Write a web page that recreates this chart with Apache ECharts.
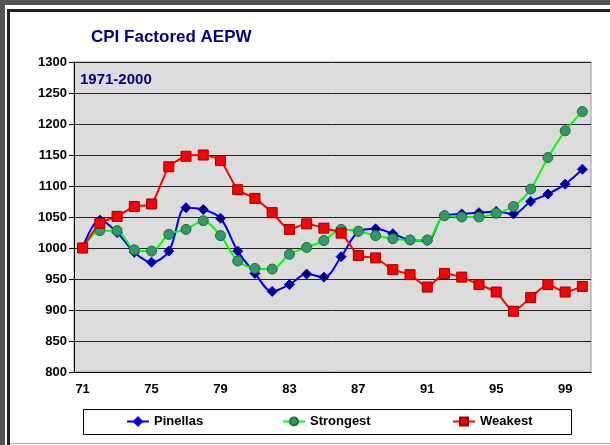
<!DOCTYPE html>
<html>
<head>
<meta charset="utf-8">
<title>CPI Factored AEPW</title>
<script src="https://cdn.jsdelivr.net/npm/echarts@6/dist/echarts.min.js"></script>
<style>
  html, body { margin: 0; padding: 0; background: #fff; }
  #chart { width: 610px; height: 445px; }
</style>
</head>
<body>
<div id="chart"></div>
<script>
// years 1971-2000, shown as two-digit labels
const years = ['71','72','73','74','75','76','77','78','79','80',
  '81','82','83','84','85','86','87','88','89','90',
  '91','92','93','94','95','96','97','98','99','00']

const pinellas = [1000, 1045, 1025, 993, 977, 995, 1065, 1062, 1048, 995,
  959, 930, 941, 958, 953, 986, 1026, 1031, 1023, 1013,
  1012, 1053, 1055, 1057, 1059, 1055, 1075, 1087, 1103, 1127]

const strongest = [1000, 1028, 1028, 997, 995, 1022, 1030, 1044, 1020, 979,
  967, 966, 990, 1001, 1012, 1030, 1027, 1020, 1015, 1013,
  1013, 1052, 1050, 1050, 1056, 1067, 1095, 1146, 1189, 1220]

const weakest = [1000, 1040, 1051, 1067, 1071, 1131, 1148, 1150, 1141, 1094,
  1080, 1057, 1030, 1039, 1032, 1024, 988, 984, 965, 957,
  937, 959, 953, 941, 929, 898, 920, 941, 929, 938]

const chart = echarts.init(document.getElementById('chart'))

const font = 'Arial, "Liberation Sans", sans-serif'
const legendText = { fontSize: 13, fontWeight: 'bold', color: '#000', fontFamily: font }

const option = {
  animation: false,
  backgroundColor: '#fff',
  textStyle: { fontFamily: font },
  title: [
    {
      text: 'CPI Factored AEPW',
      left: 91,
      top: 29,
      padding: 0,
      textStyle: { fontSize: 17, fontWeight: 'bold', color: '#000080', fontFamily: font }
    },
    {
      text: '1971-2000',
      left: 80,
      top: 72,
      padding: 0,
      textStyle: { fontSize: 15, fontWeight: 'bold', color: '#000080', fontFamily: font }
    }
  ],
  graphic: [
    { type: 'rect', shape: { x: 0, y: 0, width: 610, height: 5 }, style: { fill: '#555' } },
    { type: 'rect', shape: { x: 0, y: 0, width: 5, height: 445 }, style: { fill: '#555' } },
    { type: 'rect', shape: { x: 7, y: 9, width: 610, height: 3 }, style: { fill: '#222' } },
    { type: 'rect', shape: { x: 7, y: 9, width: 3, height: 440 }, style: { fill: '#222' } },
    { type: 'line', shape: { x1: 10, y1: 443.5, x2: 610, y2: 443.5 }, style: { stroke: '#aaa', lineWidth: 1 } },
    {
      type: 'rect',
      shape: { x: 83.5, y: 409.5, width: 488, height: 25 },
      style: { fill: 'transparent', stroke: '#000', lineWidth: 1 }
    }
  ],
  legend: [
    {
      data: ['Pinellas'], left: 126, top: 415, padding: 0,
      itemWidth: 22, itemHeight: 10, itemGap: 0,
      textStyle: legendText
    },
    {
      data: ['Strongest'], left: 282, top: 415, padding: 0,
      itemWidth: 22, itemHeight: 10, itemGap: 0,
      textStyle: legendText
    },
    {
      data: ['Weakest'], left: 452, top: 415, padding: 0,
      itemWidth: 22, itemHeight: 10, itemGap: 0,
      textStyle: legendText
    }
  ],
  grid: {
    left: 74,
    right: 19,
    top: 62,
    bottom: 73,
    show: true,
    backgroundColor: '#dcdcdc',
    borderColor: '#999',
    borderWidth: 1
  },
  xAxis: {
    type: 'category',
    data: years,
    boundaryGap: true,
    axisLine: { lineStyle: { color: '#000', width: 1 } },
    axisTick: { interval: 0, length: 5, lineStyle: { color: '#000' } },
    axisLabel: {
      interval: 3,
      margin: 11,
      fontSize: 13,
      fontWeight: 'bold',
      color: '#000',
      fontFamily: font
    },
    splitLine: { show: false }
  },
  yAxis: {
    type: 'value',
    min: 800,
    max: 1300,
    interval: 50,
    axisLine: { show: true, lineStyle: { color: '#000', width: 1 } },
    axisTick: { show: true, length: 5, lineStyle: { color: '#000' } },
    axisLabel: {
      margin: 7,
      fontSize: 13,
      fontWeight: 'bold',
      color: '#000',
      fontFamily: font,
      formatter: (v) => String(v)
    },
    splitLine: { show: true, lineStyle: { color: '#222', width: 1 } }
  },
  series: [
    {
      name: 'Pinellas',
      type: 'line',
      data: pinellas,
      smooth: 0.35,
      symbol: 'diamond',
      symbolSize: 10,
      lineStyle: { color: '#0000ff', width: 2 },
      itemStyle: { color: '#000080', borderColor: '#0000ff', borderWidth: 1 }
    },
    {
      name: 'Strongest',
      type: 'line',
      data: strongest,
      smooth: 0.3,
      symbol: 'circle',
      symbolSize: 10,
      lineStyle: { color: '#00ff00', width: 2 },
      itemStyle: { color: '#339966', borderColor: '#1e6b3c', borderWidth: 1 }
    },
    {
      name: 'Weakest',
      type: 'line',
      data: weakest,
      smooth: 0.2,
      symbol: 'rect',
      symbolSize: 10,
      lineStyle: { color: '#ff0000', width: 2 },
      itemStyle: { color: '#ff0000', borderColor: '#990000', borderWidth: 1 }
    }
  ]
}

chart.setOption(option)
</script>
</body>
</html>
